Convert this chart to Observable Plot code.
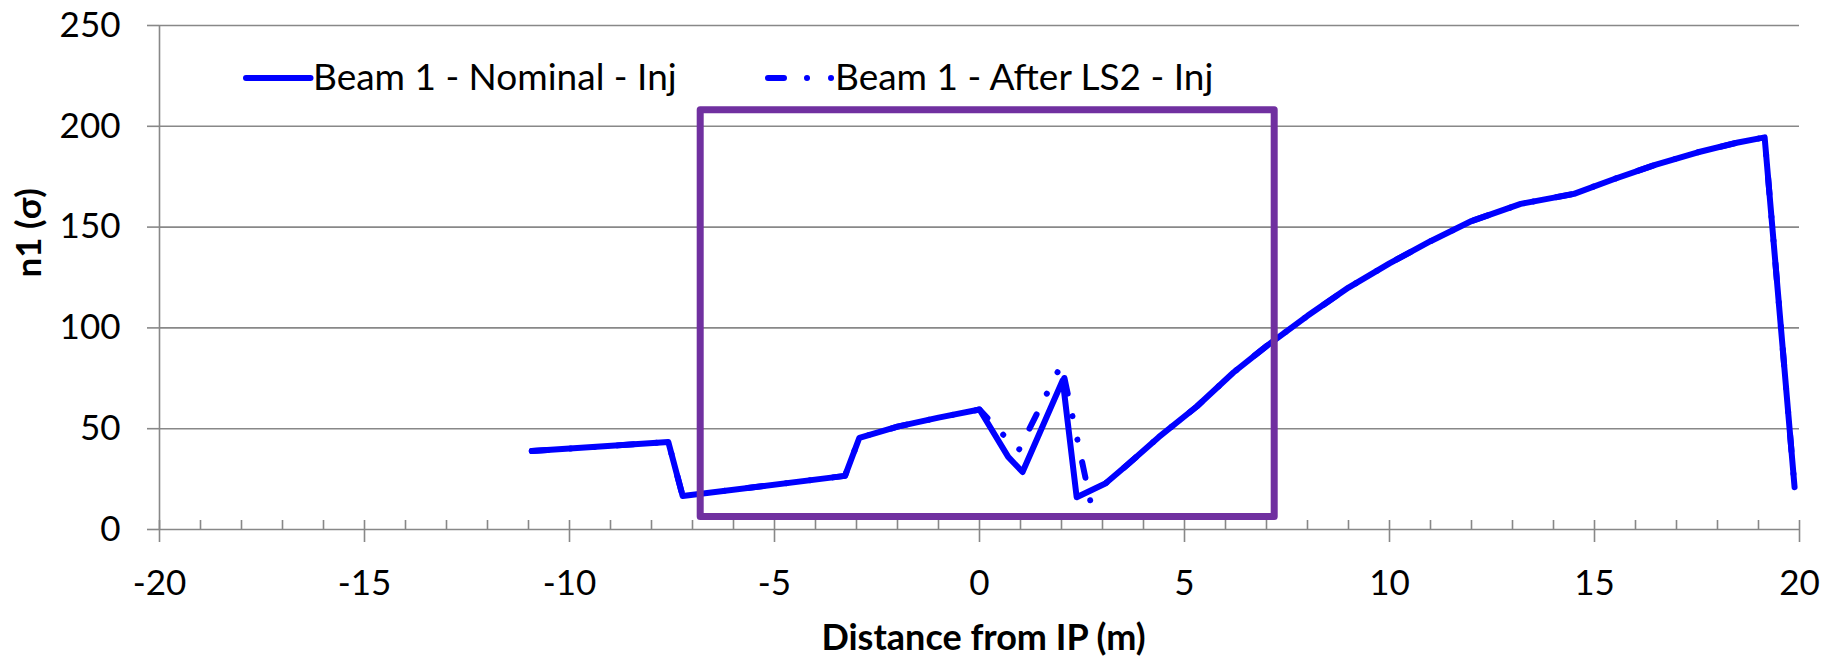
<!DOCTYPE html>
<html>
<head>
<meta charset="utf-8">
<script src="https://cdn.jsdelivr.net/npm/d3@7"></script>
<script src="https://cdn.jsdelivr.net/npm/@observablehq/plot@0.6"></script>
<style>
  html, body { margin: 0; padding: 0; background: #fff; }
  #wrap { position: relative; width: 1841px; height: 658px; overflow: hidden; background: #fff; }
  #legend { position: absolute; left: 0; top: 0; pointer-events: none; }
</style>
</head>
<body>
<div id="wrap"></div>
<script>
// ---- data ----
const seriesNames = ["Beam 1 - Nominal - Inj", "Beam 1 - After LS2 - Inj"];

const nominalX = [-10.92, -7.59, -7.24, -3.28, -2.93, -2.0, -1.0, 0.0, 0.7, 1.05, 2.03, 2.37, 3.07, 3.6, 4.37, 5.3, 6.2, 7.0, 8.0, 9.0, 10.0, 11.0, 12.0, 13.2, 14.5, 15.5, 16.5, 17.5, 18.5, 19.15, 19.88];
const nominalY = [38.9, 43.4, 16.6, 26.6, 45.5, 51.0, 55.5, 59.5, 36.0, 28.5, 74.0, 16.0, 22.8, 32.0, 45.8, 61.0, 78.0, 91.0, 106.0, 120.0, 132.0, 143.0, 153.0, 161.5, 166.5, 174.0, 181.0, 187.0, 192.0, 194.5, 21.0];

const afterX = [-10.92, -7.59, -7.24, -3.28, -2.93, -2.0, -1.0, 0.0, 0.95, 2.0, 2.7, 3.07, 3.6, 4.37, 5.3, 6.2, 7.0, 8.0, 9.0, 10.0, 11.0, 12.0, 13.2, 14.5, 15.5, 16.5, 17.5, 18.5, 19.15, 19.88];
const afterY = [38.9, 43.4, 16.6, 26.6, 45.5, 51.0, 55.5, 59.5, 39.0, 82.0, 14.5, 22.8, 32.0, 45.8, 61.0, 78.0, 91.0, 106.0, 120.0, 132.0, 143.0, 153.0, 161.5, 166.5, 174.0, 181.0, 187.0, 192.0, 194.5, 21.0];

const xTicks = [-20, -15, -10, -5, 0, 5, 10, 15, 20];
const xMinorTicks = [-20, -19, -18, -17, -16, -15, -14, -13, -12, -11, -10, -9, -8, -7, -6, -5, -4, -3, -2, -1, 0, 1, 2, 3, 4, 5, 6, 7, 8, 9, 10, 11, 12, 13, 14, 15, 16, 17, 18, 19, 20];
const yTicks = [0, 50, 100, 150, 200, 250];

const boxX = [-6.8, 7.2];
const boxY = [6.2, 208];

const xLabel = "Distance from IP (m)";
const yLabel = "n1 (σ)";

// ---- build ----
const nominal = nominalX.map((x, i) => ({x, y: nominalY[i]}));
const after = afterX.map((x, i) => ({x, y: afterY[i]}));
const box = [{x1: boxX[0], x2: boxX[1], y1: boxY[0], y2: boxY[1]}];

const GRAY = "#888888";
const BLUE = "#0000FF";
const PURPLE = "#7030A0";
const DASH = "16,23,0.01,24,0.01,23";
const FONT = "Lato, 'Open Sans', sans-serif";

const chart = Plot.plot({
  width: 1841,
  height: 658,
  marginLeft: 159,
  marginRight: 42,
  marginTop: 25,
  marginBottom: 129,
  style: {fontFamily: FONT, fontSize: "35px", color: "#000", background: "#fff", overflow: "visible"},
  x: {domain: [xTicks[0], xTicks[xTicks.length - 1]]},
  y: {domain: [yTicks[0], yTicks[yTicks.length - 1]]},
  marks: [
    Plot.gridY(yTicks.slice(1), {stroke: GRAY, strokeOpacity: 1, strokeWidth: 1.6}),
    Plot.ruleY([yTicks[0]], {stroke: GRAY, strokeWidth: 1.6}),
    Plot.ruleX([xTicks[0]], {stroke: GRAY, strokeWidth: 1.6}),
    Plot.axisY({ticks: yTicks, tickSize: 12, tickPadding: 27, stroke: GRAY, strokeWidth: 1.6, fill: "#000", label: null, tickFormat: d => String(d)}),
    Plot.axisX({ticks: xTicks, tickSize: 13, tickPadding: 28, stroke: GRAY, strokeWidth: 1.6, fill: "#000", label: null, tickFormat: d => String(d)}),
    Plot.axisX({ticks: xMinorTicks, tickSize: -9, stroke: GRAY, strokeWidth: 1.6, fill: "none", label: null}),
    Plot.line(nominal, {x: "x", y: "y", stroke: BLUE, strokeWidth: 6, strokeLinejoin: "round", strokeLinecap: "round"}),
    Plot.line(after, {x: "x", y: "y", stroke: BLUE, strokeWidth: 6, strokeLinejoin: "round", strokeLinecap: "round", strokeDasharray: DASH}),
    Plot.rect(box, {x1: "x1", x2: "x2", y1: "y1", y2: "y2", fill: "none", stroke: PURPLE, strokeWidth: 7, strokeLinejoin: "round"}),
    Plot.text([yLabel], {text: d => d, frameAnchor: "left", dx: -130, rotate: -90, fontWeight: "bold", fontSize: 35, lineAnchor: "middle", fill: "#000"}),
    Plot.text([xLabel], {text: d => d, frameAnchor: "bottom", dx: 4, dy: 109, fontWeight: "bold", fontSize: 36, lineAnchor: "middle", fill: "#000"})
  ]
});

const wrap = document.getElementById("wrap");
wrap.appendChild(chart);

// ---- legend overlay (inside plot area, top-left) ----
const leg = d3.select(wrap).append("svg")
  .attr("id", "legend")
  .attr("width", 1841).attr("height", 658)
  .style("font-family", FONT)
  .style("font-size", "37px");

const legendItems = [
  {name: seriesNames[0], x: 246, dash: null},
  {name: seriesNames[1], x: 768, dash: DASH}
];
legendItems.forEach(item => {
  const ln = leg.append("line")
    .attr("x1", item.x).attr("x2", item.x + 64.5)
    .attr("y1", 78).attr("y2", 78)
    .attr("stroke", BLUE).attr("stroke-width", 6)
    .attr("stroke-linecap", "round");
  if (item.dash) ln.attr("stroke-dasharray", item.dash);
  leg.append("text")
    .attr("x", item.x + 67).attr("y", 90)
    .attr("fill", "#000")
    .text(item.name);
});
</script>
</body>
</html>
